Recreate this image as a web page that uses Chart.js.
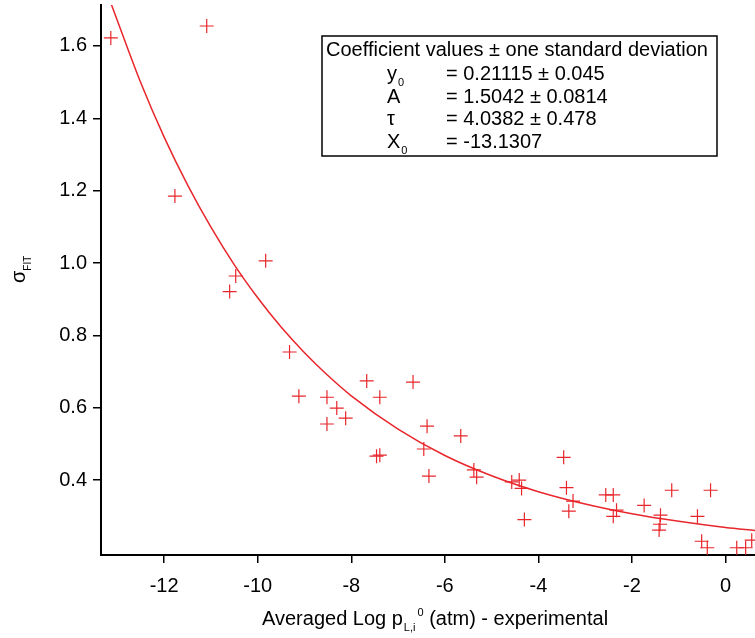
<!DOCTYPE html>
<html>
<head>
<meta charset="utf-8">
<script src="https://cdn.jsdelivr.net/npm/chart.js@4"></script>
<style>
  html, body { margin: 0; padding: 0; background: #fff; }
  #wrap { width: 755px; height: 638px; position: relative; }
</style>
</head>
<body>
<div id="wrap"><canvas id="fitChart"></canvas></div>
<script>
// measured points (x = averaged log p, y = sigma fit)
const pointsX = [-13.14, -11.09, -11.77, -9.83, -10.47, -10.60, -9.32, -9.12, -8.52, -8.31,
  -8.12, -8.52, -7.67, -7.39, -7.46, -7.39, -6.68, -6.38, -6.45, -6.34,
  -5.66, -5.38, -5.32, -4.57, -4.41, -4.36, -4.30, -3.46, -3.40, -3.26,
  -3.35, -2.56, -2.40, -2.33, -2.40, -1.74, -1.39, -1.40, -1.42, -1.15,
  -0.60, -0.32, -0.51, -0.39, 0.24, 0.43, 0.56];
const pointsY = [1.622, 1.655, 1.185, 1.006, 0.964, 0.921, 0.754, 0.632, 0.629, 0.599,
  0.571, 0.555, 0.674, 0.629, 0.466, 0.469, 0.671, 0.549, 0.486, 0.411,
  0.522, 0.428, 0.408, 0.395, 0.400, 0.377, 0.291, 0.463, 0.379, 0.342,
  0.314, 0.359, 0.359, 0.317, 0.300, 0.330, 0.303, 0.278, 0.262, 0.372,
  0.300, 0.372, 0.231, 0.213, 0.213, 0.213, 0.234];

// fitted curve
const fitX = [-13.13, -12.5, -12, -11.5, -11, -10.5, -10, -9.5, -9, -8.5, -8, -7, -6, -5, -4, -3, -2, -1, 0, 0.63];
const fitY = [1.715, 1.498, 1.348, 1.216, 1.099, 0.995, 0.904, 0.823, 0.752, 0.689, 0.633, 0.541, 0.468, 0.412, 0.368, 0.334, 0.307, 0.286, 0.269, 0.261];

const xTicks = [-12, -10, -8, -6, -4, -2, 0];
const yTicks = [0.4, 0.6, 0.8, 1.0, 1.2, 1.4, 1.6];

const coefTitle = "Coefficient values ± one standard deviation";
const coefNames = [["y", "0"], ["A", ""], ["τ", ""], ["X", "0"]];
const coefValues = ["= 0.21115 ± 0.045", "= 1.5042 ± 0.0814", "= 4.0382 ± 0.478", "= -13.1307"];

const red = "#e8262b";
const font = "Liberation Sans, Arial, sans-serif";

const annotate = {
  id: "annotate",
  afterDraw(chart) {
    const ctx = chart.ctx;
    ctx.save();
    ctx.fillStyle = "#000";
    ctx.textBaseline = "alphabetic";

    // coefficient box
    ctx.lineWidth = 1.5;
    ctx.strokeStyle = "#000";
    ctx.strokeRect(322, 36, 395, 120);
    ctx.font = "20px " + font;
    ctx.textAlign = "left";
    ctx.fillText(coefTitle, 326, 56);
    coefNames.forEach((n, i) => {
      const y = 80 + i * 22.5;
      ctx.font = "20px " + font;
      ctx.fillText(n[0], 387, y);
      if (n[1]) {
        const w = ctx.measureText(n[0]).width;
        ctx.font = "11px " + font;
        ctx.fillText(n[1], 388 + w, y + 6);
      }
      ctx.font = "20px " + font;
      ctx.fillText(coefValues[i], 446, y);
    });

    // x axis title: Averaged Log p_{L,i}^0 (atm) - experimental
    ctx.font = "20px " + font;
    let x = 262;
    const yb = 625;
    ctx.fillText("Averaged Log p", x, yb);
    x += ctx.measureText("Averaged Log p").width + 1;
    ctx.font = "11px " + font;
    ctx.fillText("L,i", x, yb + 6);
    x += ctx.measureText("L,i").width + 2;
    ctx.fillText("0", x, yb - 9);
    x += ctx.measureText("0").width;
    ctx.font = "20px " + font;
    ctx.fillText(" (atm) - experimental", x, yb);

    // y axis title
    ctx.translate(25, 283);
    ctx.rotate(-Math.PI / 2);
    ctx.font = "20px " + font;
    ctx.fillText("σ", 0, 0);
    const sw = ctx.measureText("σ").width;
    ctx.font = "10px " + font;
    ctx.fillText("FIT", sw, 6);
    ctx.restore();
  }
};

new Chart(document.getElementById("fitChart"), {
  type: "scatter",
  data: {
    datasets: [
      {
        label: "data",
        data: pointsX.map((v, i) => ({ x: v, y: pointsY[i] })),
        pointStyle: "cross",
        pointRadius: 7,
        pointBorderWidth: 1.2,
        borderColor: red,
        backgroundColor: red,
        showLine: false,
        clip: false,
      },
      {
        label: "fit",
        data: fitX.map((v, i) => ({ x: v, y: fitY[i] })),
        showLine: true,
        borderColor: red,
        borderWidth: 1.5,
        pointRadius: 0,
        cubicInterpolationMode: "monotone",
      },
    ],
  },
  options: {
    responsive: true,
    maintainAspectRatio: false,
    animation: false,
    layout: { autoPadding: false, padding: { top: 5, right: 0, left: 0, bottom: 0 } },
    plugins: { legend: { display: false }, tooltip: { enabled: false } },
    scales: {
      x: {
        type: "linear",
        min: -13.35,
        max: 0.63,
        afterBuildTicks: (s) => { s.ticks = xTicks.map((v) => ({ value: v })); },
        afterFit: (s) => { s.height = 83; s.paddingLeft = 0; s.paddingRight = 0; },
        grid: { drawOnChartArea: false, drawTicks: true, tickLength: 8, color: "#000", lineWidth: 1.5 },
        border: { display: true, color: "#000", width: 2 },
        ticks: { color: "#000", font: { family: font, size: 20 }, maxRotation: 0, padding: 11 },
      },
      y: {
        type: "linear",
        min: 0.193,
        max: 1.713,
        afterBuildTicks: (s) => { s.ticks = yTicks.map((v) => ({ value: v })); },
        afterFit: (s) => { s.width = 101; s.paddingTop = 0; s.paddingBottom = 0; },
        grid: { drawOnChartArea: false, drawTicks: true, tickLength: 8, color: "#000", lineWidth: 1.5 },
        border: { display: true, color: "#000", width: 2 },
        ticks: { color: "#000", font: { family: font, size: 20 }, padding: 6, callback: (v) => v.toFixed(1) },
      },
    },
  },
  plugins: [annotate],
});
</script>
</body>
</html>
